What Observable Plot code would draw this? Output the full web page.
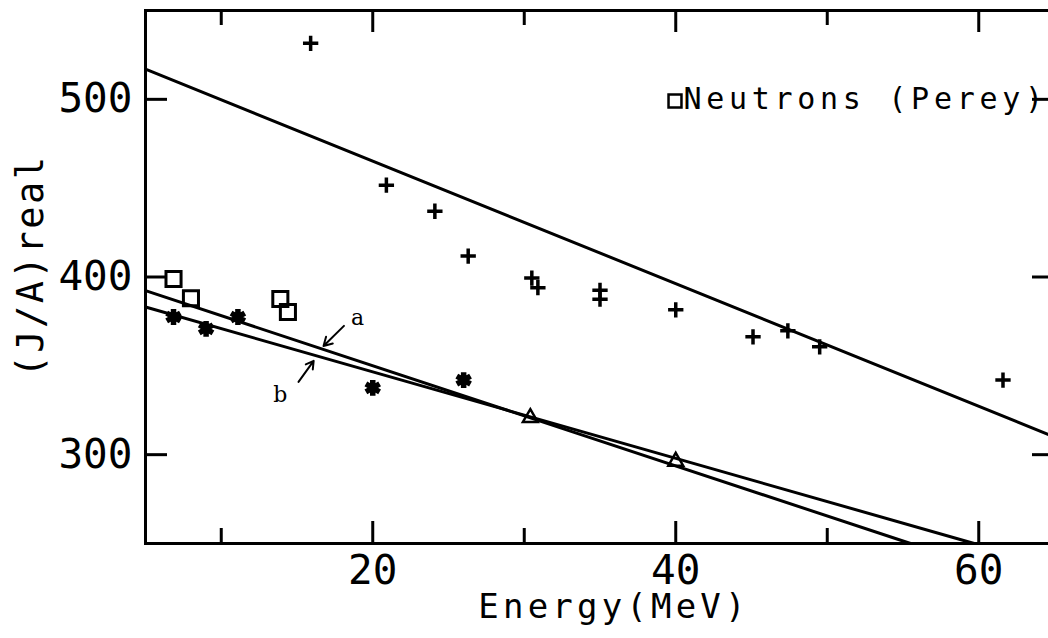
<!DOCTYPE html>
<html>
<head>
<meta charset="utf-8">
<script src="https://cdn.jsdelivr.net/npm/d3@7"></script>
<script src="https://cdn.jsdelivr.net/npm/@observablehq/plot@0.6"></script>
<style>
  html, body { margin: 0; padding: 0; background: #fff; overflow: hidden; }
  #chart { width: 1048px; height: 638px; overflow: hidden; }
  #chart svg { max-width: none !important; }
</style>
</head>
<body>
<div id="chart"></div>
<script>
// (J/A)real against incident energy for each data set
const protonEnergy = [15.9, 20.9, 24.1, 26.3, 30.5, 30.9, 35.0, 35.0, 40.0, 45.1, 47.4, 49.5, 61.6];
const protonJA     = [531.5, 451.7, 437.0, 411.8, 399.4, 394.0, 392.5, 387.5, 381.5, 366.3, 369.7, 360.7, 342.0];

const neutronEnergy = [6.85, 8.0, 13.9, 14.4];
const neutronJA     = [398.9, 388.0, 387.6, 380.3];

const starEnergy = [6.85, 9.0, 11.1, 20.0, 26.0];
const starJA     = [377.5, 370.8, 377.5, 337.6, 342.0];

const triangleEnergy = [30.4, 40.0];
const triangleJA     = [320.8, 296.2];

// straight-line fits, given by their end points
const fitUpperEnergy = [5, 65];
const fitUpperJA     = [517, 310];
const fitAEnergy = [5, 55.5];
const fitAJA     = [392.3, 250];
const fitBEnergy = [5, 59.7];
const fitBJA     = [383.1, 250];

// labels "a" and "b" with the arrows pointing at their lines
const noteLabels      = ["a", "b"];
const noteLabelEnergy = [19.0, 13.9];
const noteLabelJA     = [377.0, 333.7];
const noteFromEnergy  = [18.1, 15.1];
const noteFromJA      = [372.5, 341.0];
const noteToEnergy    = [16.75, 16.1];
const noteToJA        = [361.2, 352.8];

// axes
const xDomain = [5, 65];
const yDomain = [250, 550];
const xMajorTicks = [20, 40, 60];
const xMinorTicks = [10, 30, 50];
const yTicks = [300, 400, 500];
const xTickLabels = [20, 40, 60];
const yTickLabels = [300, 400, 500];
const xLabel = "Energy(MeV)";
const yLabel = "(J/A)real";
const legendLabel = "Neutrons (Perey)";

const pts = (E, V) => E.map((e, i) => ({E: e, V: V[i]}));
const protons = pts(protonEnergy, protonJA);
const neutrons = pts(neutronEnergy, neutronJA);
const stars = pts(starEnergy, starJA);
const triangles = pts(triangleEnergy, triangleJA);
const fitUpper = pts(fitUpperEnergy, fitUpperJA);
const fitA = pts(fitAEnergy, fitAJA);
const fitB = pts(fitBEnergy, fitBJA);
const notes = noteLabels.map((t, i) => ({
  t, E: noteLabelEnergy[i], V: noteLabelJA[i],
  E1: noteFromEnergy[i], V1: noteFromJA[i], E2: noteToEnergy[i], V2: noteToJA[i]
}));

// the frame runs a little past the right edge of the page
const W = 1060, H = 638, mL = 145, mR = 6, mT = 10, mB = 95;
const frameW = W - mL - mR, frameH = H - mT - mB;
const major = 22, minor = 15;
const ink = "#000";

const chart = Plot.plot({
  width: W, height: H,
  marginLeft: mL, marginRight: mR, marginTop: mT, marginBottom: mB,
  x: {domain: xDomain},
  y: {domain: yDomain},
  style: {fontFamily: "'DejaVu Sans Mono', monospace", background: "#fff", color: ink,
          maxWidth: "none", width: `${W}px`, height: `${H}px`},
  marks: [
    // inward ticks on all four sides
    Plot.tickX(xMajorTicks, {x: d => d, insetTop: frameH - major, stroke: ink, strokeWidth: 3}),
    Plot.tickX(xMajorTicks, {x: d => d, insetBottom: frameH - major, stroke: ink, strokeWidth: 3}),
    Plot.tickX(xMinorTicks, {x: d => d, insetTop: frameH - minor, stroke: ink, strokeWidth: 3}),
    Plot.tickX(xMinorTicks, {x: d => d, insetBottom: frameH - minor, stroke: ink, strokeWidth: 3}),
    Plot.tickY(yTicks, {y: d => d, insetRight: frameW - major, stroke: ink, strokeWidth: 3}),
    Plot.tickY(yTicks, {y: d => d, insetLeft: frameW - major, stroke: ink, strokeWidth: 3}),
    Plot.frame({stroke: ink, strokeWidth: 3}),
    Plot.axisX({ticks: xTickLabels, tickSize: 0, tickPadding: 11, fontSize: 41, label: null}),
    Plot.axisY({ticks: yTickLabels, tickSize: 0, tickPadding: 13, fontSize: 41, label: null}),

    // axis titles
    Plot.text([xLabel], {text: d => d, frameAnchor: "bottom", dx: 14, dy: 64,
      textAnchor: "middle", lineAnchor: "middle", fontSize: 34, fill: ink}),
    Plot.text([yLabel], {text: d => d, frameAnchor: "left", rotate: -90, dx: -114, dy: -11,
      textAnchor: "middle", lineAnchor: "middle", fontSize: 37, fill: ink}),

    // fitted lines
    Plot.line(fitUpper, {x: "E", y: "V", stroke: ink, strokeWidth: 3}),
    Plot.line(fitA, {x: "E", y: "V", stroke: ink, strokeWidth: 3}),
    Plot.line(fitB, {x: "E", y: "V", stroke: ink, strokeWidth: 3}),

    // measurements
    Plot.dot(protons, {x: "E", y: "V", symbol: "plus", r: 5, stroke: ink, strokeWidth: 3.5}),
    Plot.dot(neutrons, {x: "E", y: "V", symbol: "square", r: 8.5, fill: "none", stroke: ink, strokeWidth: 3}),
    Plot.dot(stars, {x: "E", y: "V", symbol: "asterisk", r: 7.5, stroke: ink, strokeWidth: 5.5}),
    Plot.dot(triangles, {x: "E", y: "V", symbol: "triangle", r: 5.5, fill: "none", stroke: ink, strokeWidth: 2.5}),

    // line labels
    Plot.arrow(notes, {x1: "E1", y1: "V1", x2: "E2", y2: "V2", stroke: ink, strokeWidth: 2, headLength: 9}),
    Plot.text(notes, {x: "E", y: "V", text: "t", fontFamily: "'DejaVu Serif', serif",
      fontSize: 22, fill: ink}),

    // legend
    Plot.dot([legendLabel], {frameAnchor: "top-left", dx: 529.5, dy: 90.5, symbol: "square",
      r: 7.3, fill: "none", stroke: ink, strokeWidth: 2.5}),
    Plot.text([legendLabel], {text: d => d, frameAnchor: "top-left", dx: 538, dy: 89,
      textAnchor: "start", lineAnchor: "middle", fontSize: 30, fill: ink})
  ]
});

// widen the spacing of the title and legend lettering
const spacing = new Map([[xLabel, "4.2px"], [yLabel, "2.5px"], [legendLabel, "4.7px"]]);
d3.select(chart).selectAll("text")
  .filter(function() { return spacing.has(this.textContent); })
  .attr("letter-spacing", function() { return spacing.get(this.textContent); });

document.getElementById("chart").appendChild(chart);
</script>
</body>
</html>
